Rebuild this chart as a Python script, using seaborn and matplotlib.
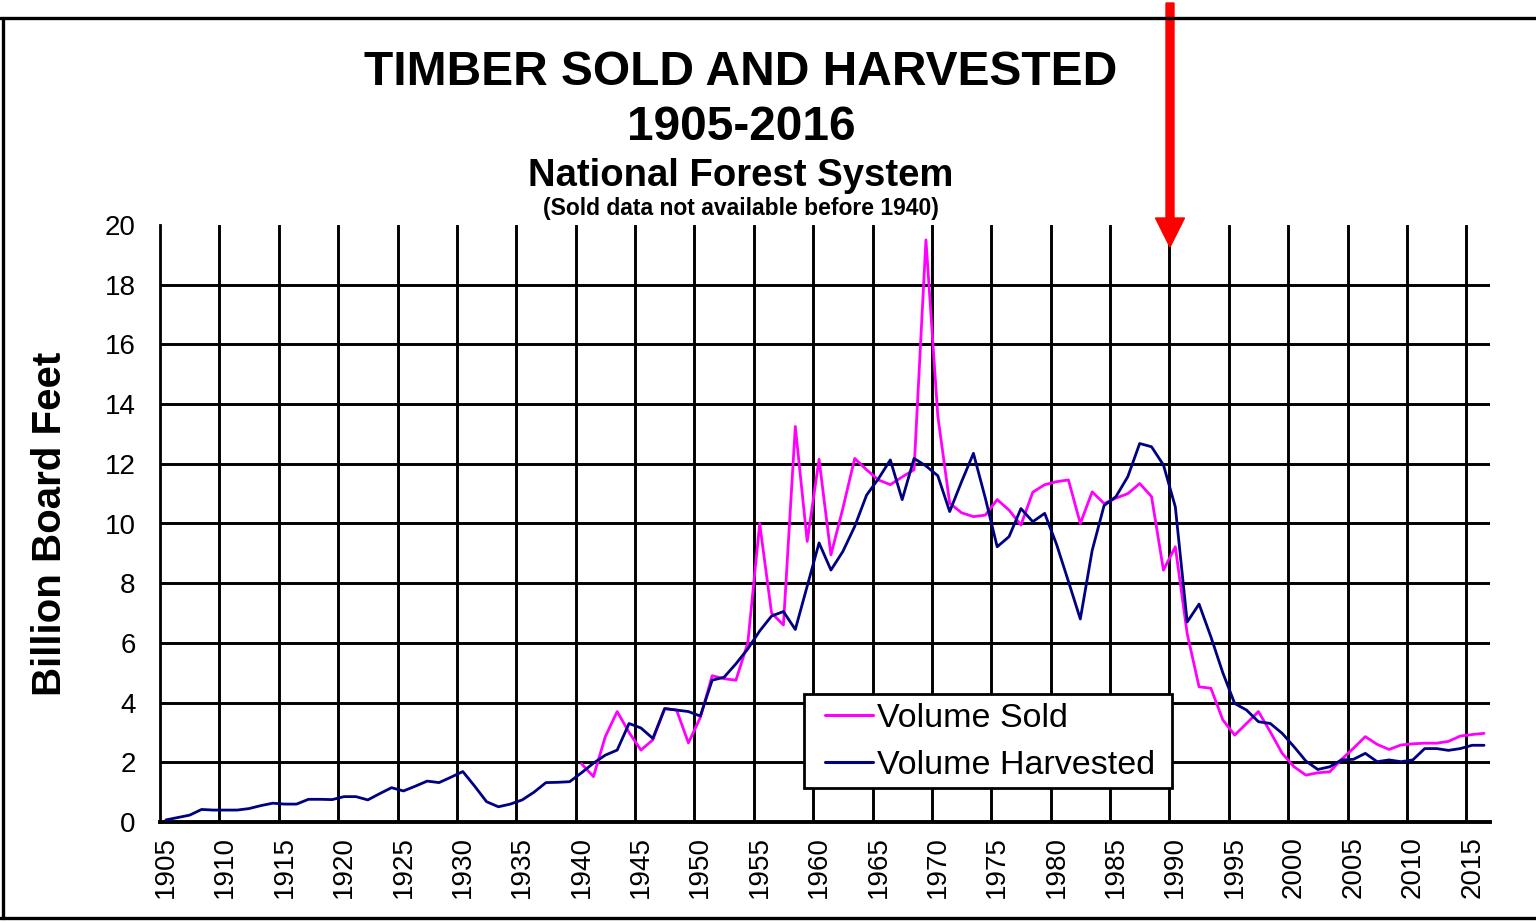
import pandas as pd
import seaborn as sns
import matplotlib.pyplot as plt
from matplotlib.lines import Line2D
from matplotlib.patches import FancyArrow, Rectangle

# values (billion board feet)
years = list(range(1905, 2017))
harvested = [
    0.07, 0.15, 0.23, 0.42, 0.40, 0.40, 0.40, 0.45, 0.55, 0.63,   # 1905-1914
    0.60, 0.60, 0.76, 0.76, 0.75, 0.85, 0.85, 0.74, 0.95, 1.15,   # 1915-1924
    1.04, 1.20, 1.37, 1.32, 1.50, 1.69, 1.20, 0.68, 0.51, 0.60,   # 1925-1934
    0.74, 1.00, 1.32, 1.33, 1.35, 1.65, 1.97, 2.24, 2.41, 3.30,   # 1935-1944
    3.15, 2.80, 3.80, 3.75, 3.70, 3.55, 4.75, 4.85, 5.30, 5.80,   # 1945-1954
    6.40, 6.90, 7.05, 6.45, 7.90, 9.35, 8.44, 9.06, 9.90, 10.95,  # 1955-1964
    11.50, 12.13, 10.80, 12.18, 11.93, 11.60, 10.40, 11.40, 12.35, 10.85,  # 1965-1974
    9.22, 9.56, 10.50, 10.06, 10.34, 9.30, 8.06, 6.80, 9.10, 10.60,  # 1975-1984
    10.90, 11.57, 12.68, 12.57, 11.96, 10.56, 6.70, 7.30, 6.20, 5.00,  # 1985-1994
    3.97, 3.75, 3.36, 3.30, 2.97, 2.52, 2.04, 1.76, 1.85, 2.08,   # 1995-2004
    2.10, 2.30, 2.02, 2.08, 2.02, 2.08, 2.46, 2.46, 2.40, 2.46,   # 2005-2014
    2.57, 2.57,                                                   # 2015-2016
]
sold_years = list(range(1940, 2017))
sold = [
    1.95, 1.52, 2.86, 3.70, 3.00, 2.41, 2.75, 3.80, 3.75, 2.65,   # 1940-1949
    3.50, 4.90, 4.80, 4.75, 6.00, 10.00, 7.00, 6.60, 13.25, 9.40,  # 1950-1959
    12.15, 8.95, 10.50, 12.18, 11.80, 11.46, 11.30, 11.56, 11.80, 19.50,  # 1960-1969
    13.60, 10.68, 10.36, 10.23, 10.28, 10.80, 10.45, 9.95, 11.05, 11.30,  # 1970-1979
    11.40, 11.46, 10.00, 11.06, 10.67, 10.85, 11.00, 11.34, 10.90, 8.44,  # 1980-1989
    9.22, 6.31, 4.53, 4.48, 3.42, 2.91, 3.30, 3.70, 3.02, 2.30,   # 1990-1999
    1.85, 1.57, 1.65, 1.68, 2.10, 2.47, 2.86, 2.60, 2.43, 2.58,   # 2000-2009
    2.62, 2.64, 2.64, 2.70, 2.88, 2.93, 2.97,                     # 2010-2016
]
series_names = ['Volume Sold', 'Volume Harvested']
series_colors = ['#ff00ff', '#000080']
label_years = [1905, 1910, 1915, 1920, 1925, 1930, 1935, 1940, 1945, 1950, 1955, 1960,
               1965, 1970, 1975, 1980, 1985, 1990, 1995, 2000, 2005, 2010, 2015]
y_ticks = [0, 2, 4, 6, 8, 10, 12, 14, 16, 18, 20]

df = pd.concat([
    pd.DataFrame({'year': sold_years, 'value': sold, 'series': series_names[0]}),
    pd.DataFrame({'year': years, 'value': harvested, 'series': series_names[1]}),
])

sns.set_style('white')
plt.rcParams['font.family'] = ['Liberation Sans', 'DejaVu Sans']
plt.rcParams['text.color'] = 'black'
plt.rcParams['xtick.color'] = 'black'
plt.rcParams['ytick.color'] = 'black'

fig = plt.figure(figsize=(15.36, 9.22), dpi=100)
ax = fig.add_axes([160 / 1536, 100 / 922, 1330 / 1536, 597 / 922])

sns.lineplot(data=df, x='year', y='value', hue='series', hue_order=series_names,
             palette=series_colors, estimator=None, linewidth=2.0, ax=ax, zorder=3)

# each year sits in the middle of its category slot, grid lines on slot borders
ax.set_xlim(years[0] - 0.5, years[-1] + 0.5)
ax.set_ylim(0, 20)

ax.set_xticks(label_years)
ax.set_xticklabels([str(y) for y in label_years], rotation=90, fontsize=20)
ax.set_xticks([y - 0.5 for y in label_years[1:]], minor=True)
ax.set_yticks(y_ticks)
ax.set_yticklabels([str(v) for v in y_ticks], fontsize=20)
ax.yaxis.remove_overlapping_locs = False
ax.set_yticks(y_ticks[1:-1], minor=True)

ax.tick_params(axis='x', which='major', length=0, pad=10)
ax.tick_params(axis='x', which='minor', length=7.5, width=2, color='black', direction='out')
ax.tick_params(axis='y', which='major', length=8.5, width=2, color='black', direction='out', pad=9)
ax.tick_params(axis='y', which='minor', length=0)

ax.grid(False)
ax.grid(which='minor', color='black', linewidth=2.1)
ax.set_axisbelow(True)

for s in ['top', 'right']:
    ax.spines[s].set_visible(False)
ax.spines['left'].set_color('black')
ax.spines['left'].set_linewidth(2)
ax.spines['bottom'].set_color('black')
ax.spines['bottom'].set_linewidth(2.8)

ax.set_xlabel('')
ax.set_ylabel('')

# legend box (frame drawn separately to get the wide side padding)
box = Rectangle(((804 - 160) / 1330, (822 - 788) / 597), (1172 - 804) / 1330, (788 - 694) / 597,
                transform=ax.transAxes, facecolor='white', edgecolor='black', linewidth=2,
                zorder=4)
ax.add_patch(box)
handles, labels = ax.get_legend_handles_labels()
for h in handles:
    h.set_linewidth(2.2)
leg = ax.legend(handles, labels, loc='upper left', bbox_to_anchor=((825 - 160) / 1330, (822 - 703) / 597),
                borderaxespad=0, borderpad=0, fontsize=24.5, frameon=False,
                handlelength=1.42, handletextpad=0.1, labelspacing=0.47)
leg.set_zorder(5)

# titles
fig.text(741 / 1536, (922 - 85) / 922, 'TIMBER SOLD AND HARVESTED', ha='center', va='baseline',
         fontsize=34.5, fontweight='bold')
fig.text(741 / 1536, (922 - 140) / 922, '1905-2016', ha='center', va='baseline',
         fontsize=34.5, fontweight='bold')
fig.text(741 / 1536, (922 - 186) / 922, 'National Forest System', ha='center', va='baseline',
         fontsize=27.5, fontweight='bold')
fig.text(741 / 1536, (922 - 215) / 922, '(Sold data not available before 1940)', ha='center',
         va='baseline', fontsize=16.5, fontweight='bold')
fig.text(50 / 1536, (922 - 524) / 922, 'Billion Board Feet', rotation=90, ha='center',
         va='center', fontsize=29, fontweight='bold')

# outer frame
fr = dict(color='black', linewidth=2.4, transform=fig.transFigure)
fig.add_artist(Line2D([0, 1], [(922 - 18) / 922] * 2, **fr))
fig.add_artist(Line2D([2.5 / 1536] * 2, [4 / 922, (922 - 18) / 922], **fr))
fig.add_artist(Line2D([0, 1], [4 / 922] * 2, **fr))

# red arrow pointing at 1990
arrow = FancyArrow(11.70, 9.19, 0, -(247 - 3) / 100, width=0.08, head_width=0.29,
                   head_length=0.29, length_includes_head=True, color='#ff0000',
                   transform=fig.dpi_scale_trans)
fig.add_artist(arrow)

fig.savefig('out.png', dpi=100, facecolor='white')
